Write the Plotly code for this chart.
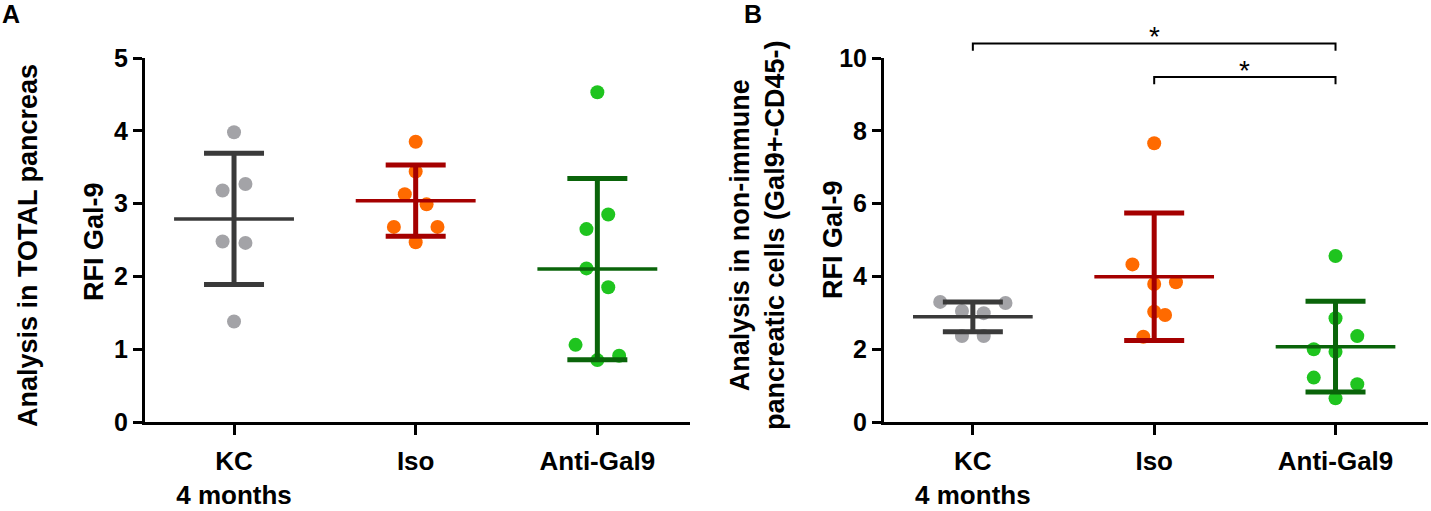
import plotly.graph_objects as go

FONT = "Liberation Sans, Arial, sans-serif"

GROUPS = ["KC<br>4 months", "Iso", "Anti-Gal9"]

# panel A: RFI Gal-9, total pancreas
A_KC = [3.98, 3.27, 3.18, 2.48, 2.46, 1.38]
A_ISO = [3.85, 3.44, 3.13, 2.99, 2.68, 2.68, 2.47]
A_ANTI = [4.53, 2.85, 2.65, 2.11, 1.85, 1.06, 0.91, 0.85]
A_MEAN = [2.79, 3.04, 2.10]
A_SD = [0.90, 0.49, 1.245]

# panel B: RFI Gal-9, non-immune pancreatic cells
B_KC = [3.30, 3.27, 3.05, 2.99, 2.36, 2.36]
B_ISO = [7.66, 4.33, 3.79, 3.84, 3.03, 2.94, 2.34]
B_ANTI = [4.56, 2.85, 2.36, 2.00, 1.93, 1.22, 1.04, 0.65]
B_MEAN = [2.89, 3.99, 2.07]
B_SD = [0.41, 1.75, 1.245]

# significance brackets in B: (from group, to group, height, label)
B_SIG = [(0, 2, 10.40, "*"), (1, 2, 9.48, "*")]

# horizontal spread of the dots inside each group
A_DX = [
    [0, 0.063, -0.063, -0.063, 0.063, 0],
    [0, 0, -0.06, 0.06, -0.12, 0.12, 0],
    [0, 0.06, -0.06, -0.06, 0.06, -0.12, 0.12, 0],
]
B_DX = [
    [-0.18, 0.18, -0.06, 0.06, -0.06, 0.06],
    [0, -0.12, 0, 0.12, 0, 0.06, -0.06],
    [0, 0, 0.12, -0.12, 0, -0.12, 0.12, 0],
]

DOT_COLORS = ["#a3a3a7", "#ff6a00", "#1fc41f"]
BAR_COLORS = ["#3a3a3a", "#a50000", "#0a640a"]

W, H = 1431, 511
L, R, T, B = 145, 3, 58, 89
PW, PH = W - L - R, H - T - B


def px_x(p):
    return (p - L) / PW


def px_y(p):
    return (H - B - p) / PH


def add_panel(fig, xa, ya, groups, dxs, means, sds):
    for i, vals in enumerate(groups):
        fig.add_trace(go.Scatter(x=[i + d for d in dxs[i]], y=vals, mode="markers",
                                 marker=dict(size=14, color=DOT_COLORS[i]),
                                 xaxis=xa, yaxis=ya, hoverinfo="y", cliponaxis=False))
    for i in range(len(means)):
        fig.add_trace(go.Scatter(x=[i], y=[means[i]], mode="markers",
                                 marker=dict(size=1, color="rgba(0,0,0,0)"),
                                 error_x=dict(type="constant", value=0.33, width=0,
                                              thickness=3.5, color=BAR_COLORS[i]),
                                 error_y=dict(type="data", array=[sds[i]], width=30,
                                              thickness=5, color=BAR_COLORS[i]),
                                 xaxis=xa, yaxis=ya, hoverinfo="y"))


fig = go.Figure()
add_panel(fig, "x", "y", [A_KC, A_ISO, A_ANTI], A_DX, A_MEAN, A_SD)
add_panel(fig, "x2", "y2", [B_KC, B_ISO, B_ANTI], B_DX, B_MEAN, B_SD)

xcommon = dict(range=[-0.49, 2.51], tickmode="array", tickvals=[0, 1, 2], ticktext=GROUPS,
               showline=True, linewidth=3, linecolor="black", ticks="outside", ticklen=10,
               tickwidth=3, tickcolor="black", showgrid=False, zeroline=False,
               ticklabelstandoff=4, automargin=False,
               tickfont=dict(family=FONT, size=26, weight="bold", color="black"))
ycommon = dict(showline=True, linewidth=3, linecolor="black", ticks="outside", ticklen=9,
               tickwidth=3, tickcolor="black", showgrid=False, zeroline=False,
               automargin=False,
               tickfont=dict(family=FONT, size=25, weight="bold", color="black"))

fig.update_layout(
    width=W, height=H, autosize=False,
    margin=dict(l=L, r=R, t=T, b=B),
    paper_bgcolor="white", plot_bgcolor="white", showlegend=False,
    xaxis=dict(domain=[0, px_x(690)], anchor="y", **xcommon),
    yaxis=dict(domain=[0, 1], anchor="x", range=[0, 5], dtick=1, **ycommon),
    xaxis2=dict(domain=[px_x(884), 1], anchor="y2", **xcommon),
    yaxis2=dict(domain=[0, 1], anchor="x2", range=[0, 10], dtick=2, **ycommon),
)

title_font = dict(family=FONT, size=27, weight="bold", color="black")
notes = [
    ("Analysis in TOTAL pancreas", 28, 246),
    ("RFI Gal-9", 94, 242),
    ("Analysis in non-immune<br>pancreatic cells (Gal9+-CD45-)", 757, 236),
    ("RFI Gal-9", 833, 240),
]
for text, xp, yp in notes:
    fig.add_annotation(text=text, xref="paper", yref="paper", x=px_x(xp), y=px_y(yp),
                       xanchor="center", yanchor="middle", textangle=-90,
                       showarrow=False, font=title_font)

for lab, xp in [("A", 0), ("B", 742)]:
    fig.add_annotation(text=lab, xref="paper", yref="paper", x=px_x(xp), y=px_y(-2),
                       xanchor="left", yanchor="top", showarrow=False,
                       font=dict(family=FONT, size=25, weight="bold", color="black"))

ymax_b = 10
drop = 0.2
for g0, g1, h, lab in B_SIG:
    fig.add_shape(type="path", xref="x2", yref="paper",
                  path=f"M {g0},{(h - drop) / ymax_b} L {g0},{h / ymax_b} "
                       f"L {g1},{h / ymax_b} L {g1},{(h - drop) / ymax_b}",
                  line=dict(color="black", width=2))
    fig.add_annotation(text=lab, xref="x2", yref="paper", x=(g0 + g1) / 2, y=h / ymax_b,
                       xanchor="center", yanchor="bottom", yshift=-11, showarrow=False,
                       font=dict(family=FONT, size=28, color="black"))

fig.write_html("out.html", config={"displayModeBar": False},
               post_script="document.body.style.margin='0';")
